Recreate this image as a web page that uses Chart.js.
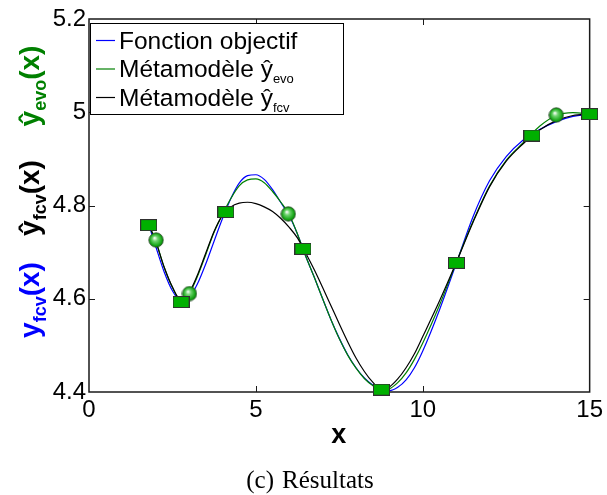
<!DOCTYPE html>
<html>
<head>
<meta charset="utf-8">
<script src="https://cdn.jsdelivr.net/npm/chart.js@4.4.1/dist/chart.umd.min.js"></script>
<style>
  html, body { margin: 0; padding: 0; background: #fff; }
  #wrap { width: 607px; height: 495px; position: relative; }
</style>
</head>
<body>
<div id="wrap"><canvas id="c" width="607" height="495"></canvas></div>
<script>
// ---------- DATA ----------
const xGrid = [1.8, 2.0, 2.25, 2.5, 2.75, 3.0, 3.25, 3.5, 3.75, 4.0, 4.25, 4.5, 4.75, 5.0, 5.25, 5.5, 5.75, 6.0, 6.25, 6.5, 6.75, 7.0, 7.25, 7.5, 7.75, 8.0, 8.25, 8.5, 8.75, 9.0, 9.25, 9.5, 9.75, 10.0, 10.5, 11.0, 11.5, 12.0, 12.5, 13.0, 13.5, 14.0, 14.5, 15.0];

const yObjective = [4.757, 4.712, 4.658, 4.617, 4.596, 4.602, 4.632, 4.675, 4.724, 4.772, 4.815, 4.848, 4.864, 4.866, 4.856, 4.834, 4.806, 4.778, 4.738, 4.690, 4.646, 4.600, 4.555, 4.515, 4.480, 4.452, 4.430, 4.415, 4.406, 4.403, 4.410, 4.426, 4.452, 4.488, 4.576, 4.675, 4.775, 4.853, 4.905, 4.940, 4.963, 4.980, 4.991, 4.996];

const yEvo = [4.757, 4.724, 4.668, 4.624, 4.598, 4.611, 4.648, 4.695, 4.743, 4.781, 4.815, 4.842, 4.855, 4.857, 4.849, 4.830, 4.807, 4.780, 4.738, 4.690, 4.646, 4.600, 4.555, 4.514, 4.479, 4.451, 4.429, 4.414, 4.405, 4.407, 4.420, 4.441, 4.470, 4.505, 4.586, 4.677, 4.765, 4.842, 4.897, 4.934, 4.970, 4.993, 4.999, 4.996];

const yFcv = [4.758, 4.723, 4.668, 4.625, 4.597, 4.613, 4.651, 4.698, 4.745, 4.779, 4.797, 4.805, 4.807, 4.804, 4.797, 4.787, 4.772, 4.753, 4.730, 4.697, 4.662, 4.624, 4.585, 4.546, 4.508, 4.473, 4.444, 4.421, 4.406, 4.411, 4.428, 4.452, 4.482, 4.519, 4.595, 4.677, 4.763, 4.840, 4.895, 4.932, 4.962, 4.982, 4.993, 4.996];

const squareX = [1.79, 2.76, 4.10, 6.41, 8.76, 11.01, 13.27, 15.0];
const squareY = [4.758, 4.593, 4.786, 4.707, 4.405, 4.677, 4.950, 4.996];

const circleX = [2.01, 3.01, 5.97, 14.0];
const circleY = [4.726, 4.611, 4.782, 4.994];

const xTicks = [0, 5, 10, 15];
const yTicks = [4.4, 4.6, 4.8, 5.0, 5.2];

const legendLabels = ['Fonction objectif', 'Métamodèle ŷ', 'Métamodèle ŷ'];
const legendSubs = ['', 'evo', 'fcv'];
const captionParts = ['(c)', 'Résultats'];
const xTitle = 'x';

// ---------- helpers ----------
const SANS = "'Liberation Sans', Arial, Helvetica, sans-serif";
const pts = (xs, ys) => xs.map((x, i) => ({ x: x, y: ys[i] }));

function makeSquare() {
  const c = document.createElement('canvas');
  c.width = 17; c.height = 12;
  const g = c.getContext('2d');
  g.fillStyle = 'rgb(0,176,0)';
  g.fillRect(0, 0, 17, 12);
  g.strokeStyle = '#303030';
  g.lineWidth = 1;
  g.strokeRect(0.5, 0.5, 16, 11);
  return c;
}
function makeBall() {
  const c = document.createElement('canvas');
  c.width = 16; c.height = 16;
  const g = c.getContext('2d');
  const grad = g.createRadialGradient(6.5, 6, 0.5, 8, 8, 7.5);
  grad.addColorStop(0, '#eefaee');
  grad.addColorStop(0.3, '#70d470');
  grad.addColorStop(0.8, '#12a312');
  grad.addColorStop(1, '#087508');
  g.beginPath();
  g.arc(8, 8, 7.2, 0, Math.PI * 2);
  g.fillStyle = grad;
  g.fill();
  g.lineWidth = 0.8;
  g.strokeStyle = '#2a4a2a';
  g.stroke();
  return c;
}

const colors = { obj: '#0000ff', evo: '#008000', fcv: '#000000' };

// frame + inward ticks (drawn before datasets so markers sit on top)
const framePlugin = {
  id: 'frame',
  beforeDatasetsDraw(chart) {
    const { ctx, chartArea: a, scales } = chart;
    ctx.save();
    ctx.strokeStyle = '#1a1a1a';
    ctx.lineWidth = 1.5;
    ctx.strokeRect(a.left, a.top, a.right - a.left, a.bottom - a.top);
    ctx.lineWidth = 1;
    ctx.beginPath();
    const L = 6;
    xTicks.forEach(v => {
      const px = Math.round(scales.x.getPixelForValue(v)) + 0.5;
      if (px <= a.left + 1 || px >= a.right - 1) return;
      ctx.moveTo(px, a.bottom); ctx.lineTo(px, a.bottom - L);
      ctx.moveTo(px, a.top); ctx.lineTo(px, a.top + L);
    });
    yTicks.forEach(v => {
      const py = Math.round(scales.y.getPixelForValue(v)) + 0.5;
      if (py <= a.top + 1 || py >= a.bottom - 1) return;
      ctx.moveTo(a.left, py); ctx.lineTo(a.left + L, py);
      ctx.moveTo(a.right, py); ctx.lineTo(a.right - L, py);
    });
    ctx.stroke();
    ctx.restore();
  }
};

function drawParts(ctx, x, y, parts) {
  let cx = x;
  parts.forEach(p => {
    ctx.font = p.font;
    ctx.fillText(p.text, cx, y + (p.dy || 0));
    cx += ctx.measureText(p.text).width;
  });
}
function partsWidth(ctx, parts) {
  let w = 0;
  parts.forEach(p => { ctx.font = p.font; w += ctx.measureText(p.text).width; });
  return w;
}
function rotLabel(ctx, baseX, centerY, parts, color) {
  ctx.save();
  ctx.translate(baseX, centerY);
  ctx.rotate(-Math.PI / 2);
  ctx.fillStyle = color;
  ctx.textBaseline = 'alphabetic';
  ctx.textAlign = 'left';
  const w = partsWidth(ctx, parts);
  drawParts(ctx, -w / 2, 0, parts);
  ctx.restore();
}

const textPlugin = {
  id: 'texts',
  afterDraw(chart) {
    const { ctx, chartArea: a } = chart;
    ctx.save();
    // legend box
    const lx = 90, ly = 23, lw = 253, lh = 91;
    ctx.fillStyle = '#fff';
    ctx.fillRect(lx, ly, lw, lh);
    ctx.strokeStyle = '#000';
    ctx.lineWidth = 1;
    ctx.strokeRect(lx + 0.5, ly + 0.5, lw, lh);
    const rowY = [40, 68.5, 97];
    const dsColors = [colors.obj, colors.evo, colors.fcv];
    ctx.textBaseline = 'alphabetic';
    ctx.textAlign = 'left';
    rowY.forEach((ry, i) => {
      ctx.strokeStyle = dsColors[i];
      ctx.lineWidth = 1.2;
      ctx.beginPath();
      ctx.moveTo(96, ry + 0.5); ctx.lineTo(115, ry + 0.5);
      ctx.stroke();
      ctx.fillStyle = '#000';
      const parts = [{ text: legendLabels[i], font: '24.5px ' + SANS }];
      if (legendSubs[i]) parts.push({ text: legendSubs[i], font: '13px ' + SANS, dy: 6 });
      drawParts(ctx, 119, ry + 8.5, parts);
    });

    // rotated y-axis labels
    const MAIN = 'bold 28px ' + SANS, SUB = 'bold 18px ' + SANS;
    rotLabel(ctx, 39, 86, [
      { text: 'ŷ', font: MAIN }, { text: 'evo', font: SUB, dy: 7 }, { text: '(x)', font: MAIN }
    ], colors.evo);
    rotLabel(ctx, 39, 198, [
      { text: 'ŷ', font: MAIN }, { text: 'fcv', font: SUB, dy: 7 }, { text: '(x)', font: MAIN }
    ], colors.fcv);
    rotLabel(ctx, 39, 300, [
      { text: 'y', font: MAIN }, { text: 'fcv', font: SUB, dy: 7 }, { text: '(x)', font: MAIN }
    ], colors.obj);

    // x title
    ctx.fillStyle = '#000';
    ctx.textAlign = 'center';
    ctx.font = 'bold 27px ' + SANS;
    ctx.fillText(xTitle, (a.left + a.right) / 2 - 0.5, 443);

    // caption
    ctx.textAlign = 'left';
    ctx.font = "25px 'Liberation Serif', 'Times New Roman', serif";
    const w1 = ctx.measureText(captionParts[0]).width;
    const w2 = ctx.measureText(captionParts[1]).width;
    const gap = 8;
    const x0 = 310 - (w1 + gap + w2) / 2;
    ctx.fillText(captionParts[0], x0, 488);
    ctx.fillText(captionParts[1], x0 + w1 + gap, 488);
    ctx.restore();
  }
};

const squareImg = makeSquare();
const ballImg = makeBall();

new Chart(document.getElementById('c'), {
  type: 'scatter',
  data: {
    datasets: [
      { label: 'points carrés', data: pts(squareX, squareY), showLine: false,
        pointStyle: squareImg, pointRadius: 8, clip: false },
      { label: 'points ronds', data: pts(circleX, circleY), showLine: false,
        pointStyle: ballImg, pointRadius: 8, clip: false },
      { label: 'Métamodèle ŷfcv', data: pts(xGrid, yFcv), showLine: true, borderColor: colors.fcv,
        borderWidth: 1.2, pointRadius: 0, cubicInterpolationMode: 'monotone', fill: false },
      { label: 'Métamodèle ŷevo', data: pts(xGrid, yEvo), showLine: true, borderColor: colors.evo,
        borderWidth: 1.2, pointRadius: 0, cubicInterpolationMode: 'monotone', fill: false },
      { label: 'Fonction objectif', data: pts(xGrid, yObjective), showLine: true, borderColor: colors.obj,
        borderWidth: 1.2, pointRadius: 0, cubicInterpolationMode: 'monotone', fill: false }
    ]
  },
  options: {
    responsive: false,
    animation: false,
    events: [],
    layout: { padding: { left: 0, right: 14, top: 19, bottom: 0 } },
    plugins: { legend: { display: false }, tooltip: { enabled: false } },
    scales: {
      x: {
        type: 'linear', min: 0, max: 15,
        afterBuildTicks: s => { s.ticks = xTicks.map(v => ({ value: v })); },
        ticks: { color: '#000', font: { family: SANS, size: 24 }, padding: 4, maxRotation: 0,
                 callback: v => String(v) },
        grid: { display: false, drawTicks: false },
        border: { display: false },
        afterFit: s => { s.height = 103; }
      },
      y: {
        type: 'linear', min: 4.4, max: 5.2,
        afterBuildTicks: s => { s.ticks = yTicks.map(v => ({ value: v })); },
        ticks: { color: '#000', font: { family: SANS, size: 24 }, padding: 3,
                 callback: v => String(+v.toFixed(1)) },
        grid: { display: false, drawTicks: false },
        border: { display: false },
        afterFit: s => { s.width = 89; }
      }
    }
  },
  plugins: [framePlugin, textPlugin]
});
</script>
</body>
</html>
